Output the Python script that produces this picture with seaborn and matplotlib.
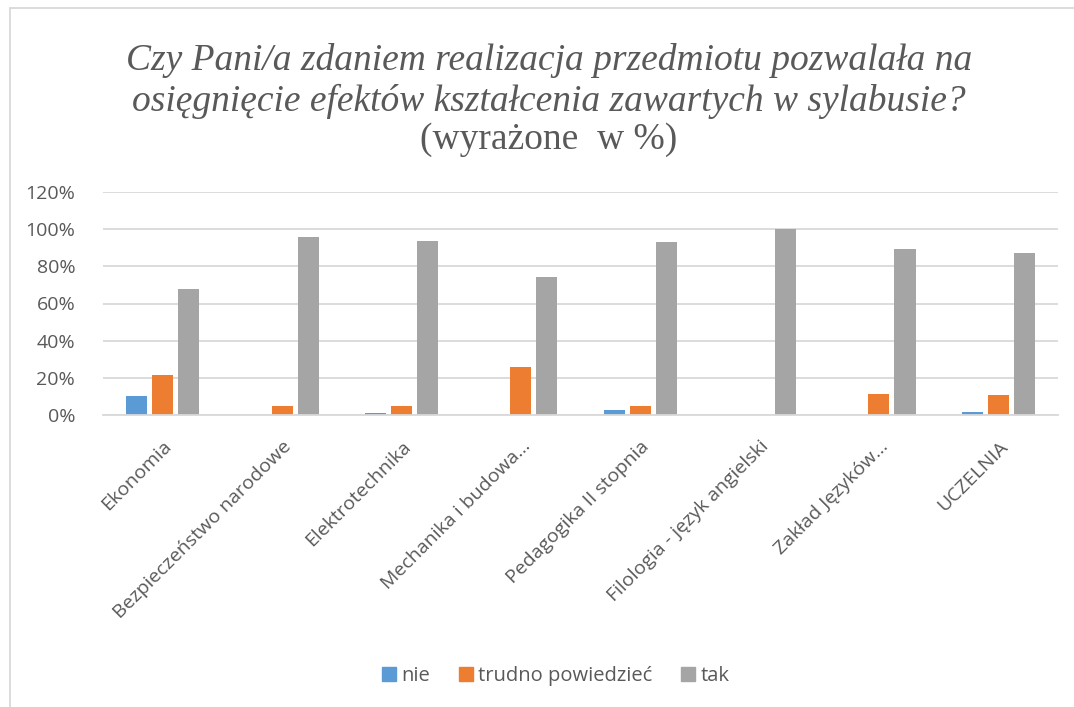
import matplotlib
matplotlib.use("Agg")
import matplotlib.pyplot as plt
from matplotlib.lines import Line2D
from matplotlib.ticker import PercentFormatter
import seaborn as sns
import pandas as pd

categories = ["Ekonomia", "Bezpieczeństwo narodowe", "Elektrotechnika",
              "Mechanika i budowa…", "Pedagogika II stopnia",
              "Filologia - język angielski", "Zakład Języków…", "UCZELNIA"]
series = ["nie", "trudno powiedzieć", "tak"]
nie = [0.10, 0.0, 0.011, 0.0, 0.025, 0.0, 0.0, 0.016]
trudno = [0.217, 0.05, 0.05, 0.257, 0.05, 0.0, 0.113, 0.106]
tak = [0.68, 0.956, 0.935, 0.741, 0.929, 1.0, 0.891, 0.872]
colors = ["#5B9BD5", "#ED7D31", "#A5A5A5"]
yticks = [0, 0.2, 0.4, 0.6, 0.8, 1.0, 1.2]
title_lines = ["Czy Pani/a zdaniem realizacja przedmiotu pozwalała na",
               "osięgnięcie efektów kształcenia zawartych w sylabusie?",
               "(wyrażone  w %)"]

df = pd.DataFrame({
    "kategoria": categories * 3,
    "odp": [series[0]] * 8 + [series[1]] * 8 + [series[2]] * 8,
    "wart": nie + trudno + tak,
})

sns.set_theme(style="white")
plt.rcParams["font.family"] = ["Open Sans", "DejaVu Sans"]

fig = plt.figure(figsize=(10.74, 7.07), dpi=100)
ax = fig.add_axes([103/1074, 1 - 415/707, 955/1074, (415-192)/707])

sns.barplot(data=df, x="kategoria", y="wart", hue="odp", order=categories,
            hue_order=series, palette=colors, width=0.655, gap=0.19,
            saturation=1, ax=ax, legend=False, edgecolor="none")

ax.set_ylim(0, 1.2)
ax.set_yticks(yticks)
ax.yaxis.set_major_formatter(PercentFormatter(1.0, decimals=0))
ax.set_xlim(-0.5, len(categories) - 0.5)
ax.grid(axis="y", color="#D9D9D9", linewidth=1.3)
ax.set_axisbelow(True)
for s in ["top", "right", "left"]:
    ax.spines[s].set_visible(False)
ax.spines["bottom"].set_color("#D9D9D9")
ax.spines["bottom"].set_linewidth(1.3)
ax.set_xlabel("")
ax.set_ylabel("")
ax.tick_params(axis="both", length=0, colors="#595959", labelsize=14)
ax.tick_params(axis="y", pad=20)
ax.tick_params(axis="x", pad=16)
for lbl in ax.get_xticklabels():
    lbl.set_rotation(45)
    lbl.set_ha("right")
    lbl.set_rotation_mode("anchor")
    lbl.set_color("#595959")
    lbl.set_fontsize(14)

# title
title_font = ["Liberation Serif", "DejaVu Serif"]
tx = 549 / 1074
fig.text(tx, 1 - 60/707, title_lines[0], ha="center", va="center",
         fontsize=27, style="italic", family=title_font, color="#595959")
fig.text(tx, 1 - 101/707, title_lines[1], ha="center", va="center",
         fontsize=27, style="italic", family=title_font, color="#595959")
fig.text(tx, 1 - 140/707, title_lines[2], ha="center", va="center",
         fontsize=27, family=title_font, color="#595959")

# legend
handles = [Line2D([], [], marker="s", linestyle="", markersize=10,
                  markerfacecolor=c, markeredgecolor=c) for c in colors]
fig.legend(handles, series, loc="center", bbox_to_anchor=(553/1074, 1 - 676/707),
           ncol=3, frameon=False, fontsize=14.5, handletextpad=0.0,
           handlelength=1.2, columnspacing=1.2, labelcolor="#595959")

# chart area border (left and top)
fig.add_artist(Line2D([10/1074, 10/1074], [0, 1 - 8/707], transform=fig.transFigure,
                      color="#D9D9D9", linewidth=1.3))
fig.add_artist(Line2D([10/1074, 1], [1 - 8/707, 1 - 8/707], transform=fig.transFigure,
                      color="#D9D9D9", linewidth=1.3))

fig.savefig("out.png", dpi=100, facecolor="white")
